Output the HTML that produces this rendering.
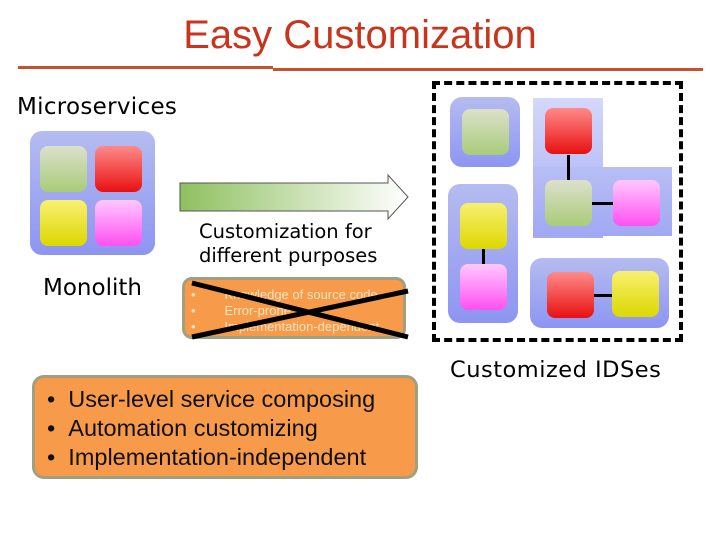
<html><head><style>
body{margin:0;width:720px;height:540px;background:#fff;position:relative;overflow:hidden;font-family:"DejaVu Sans","Liberation Sans",sans-serif}
.a{position:absolute}
.p{position:absolute;border-radius:12px;background:linear-gradient(#b5bcf0,#8d95f2)}
.q{position:absolute;width:47px;height:46px;border-radius:8px}
.g{background:linear-gradient(#dde0cc,#a8cc78)}
.r{background:linear-gradient(#ff8a8a,#e81010)}
.y{background:linear-gradient(#f8f070,#dcd800)}
.k{background:linear-gradient(#ffc8ff,#ff50f0)}
.ln{position:absolute;background:#000}
</style></head><body>
<div class="a" style="left:0;width:720px;top:13px;text-align:center;font-family:'Liberation Sans',sans-serif;font-size:40px;color:#c8341c">Easy Customization</div>
<div class="a" style="left:18px;top:66px;width:255px;height:3px;background:#c8502c"></div>
<div class="a" style="left:273px;top:68px;width:430px;height:3px;background:#c8502c"></div>
<div class="a" style="left:17px;top:94px;font-size:23px;letter-spacing:0.3px">Microservices</div>
<div class="p" style="left:30px;top:131px;width:125px;height:124px"></div>
<div class="q g" style="left:40px;top:146px"></div><div class="q r" style="left:95px;top:146px"></div>
<div class="q y" style="left:40px;top:200px"></div><div class="q k" style="left:95px;top:200px"></div>
<div class="a" style="left:43px;top:275px;font-size:23px">Monolith</div>
<svg class="a" style="left:178px;top:172px" width="234" height="50"><defs><linearGradient id="ag"><stop offset="0" stop-color="#8fc060"/><stop offset="1" stop-color="#fff"/></linearGradient></defs><polygon points="2,11 210,11 210,3 230,25 210,47 210,39 2,39" fill="url(#ag)" stroke="#555" stroke-width="1"/></svg>
<div class="a" style="left:199px;top:220px;font-size:19.5px;line-height:24px">Customization for<br>different purposes</div>
<div class="a" style="left:182px;top:277px;width:224px;height:62px;box-sizing:border-box;border:3px solid #a0a080;border-radius:10px;background:#f79a4a;color:#fde2c0;font-size:13px;line-height:16px;padding:7px 0 0 6px;font-family:'Liberation Sans',sans-serif;white-space:nowrap">•&nbsp;&nbsp;&nbsp;&nbsp;&nbsp;&nbsp;&nbsp;&nbsp;Knowledge of source code<br>•&nbsp;&nbsp;&nbsp;&nbsp;&nbsp;&nbsp;&nbsp;&nbsp;Error-prone<br>•&nbsp;&nbsp;&nbsp;&nbsp;&nbsp;&nbsp;&nbsp;&nbsp;Implementation-dependent</div>
<svg class="a" style="left:180px;top:275px" width="240" height="70"><line x1="12" y1="8" x2="228" y2="62" stroke="#000" stroke-width="5"/><line x1="12" y1="62" x2="228" y2="16" stroke="#000" stroke-width="5"/></svg>
<div class="a" style="left:432px;top:81px;width:251px;height:261px;box-sizing:border-box;border:4px dashed #000"></div>
<div class="p" style="left:450px;top:97px;width:70px;height:70px"></div>
<div class="q g" style="left:462px;top:109px"></div>
<div class="a" style="left:533px;top:98px;width:70px;height:140px;background:linear-gradient(#d4d8fa,#a4acf4)"></div>
<div class="a" style="left:533px;top:167px;width:139px;height:69px;background:linear-gradient(#b8bef4,#a0a8f4)"></div>
<div class="ln" style="left:567px;top:155px;width:3px;height:26px"></div>
<div class="ln" style="left:592px;top:202px;width:22px;height:3px"></div>
<div class="q r" style="left:545px;top:108px"></div><div class="q g" style="left:545px;top:180px"></div><div class="q k" style="left:613px;top:180px"></div>
<div class="p" style="left:448px;top:184px;width:70px;height:139px"></div>
<div class="ln" style="left:482px;top:249px;width:3px;height:16px"></div>
<div class="q y" style="left:460px;top:203px"></div><div class="q k" style="left:460px;top:264px"></div>
<div class="p" style="left:530px;top:258px;width:139px;height:70px"></div>
<div class="ln" style="left:593px;top:294px;width:20px;height:3px"></div>
<div class="q r" style="left:547px;top:272px"></div><div class="q y" style="left:612px;top:271px"></div>
<div class="a" style="left:450px;top:357px;font-size:22.5px;letter-spacing:0.5px">Customized IDSes</div>
<div class="a" style="left:32px;top:375px;width:386px;height:104px;box-sizing:border-box;border:3px solid #a0a080;border-radius:12px;background:#f79a4a;font-family:'Liberation Sans',sans-serif;font-size:23.5px;line-height:29px;padding:7px 0 0 12px;color:#111;white-space:nowrap">•&nbsp;&nbsp;User-level service composing<br>•&nbsp;&nbsp;Automation customizing<br>•&nbsp;&nbsp;Implementation-independent</div>
</body></html>
